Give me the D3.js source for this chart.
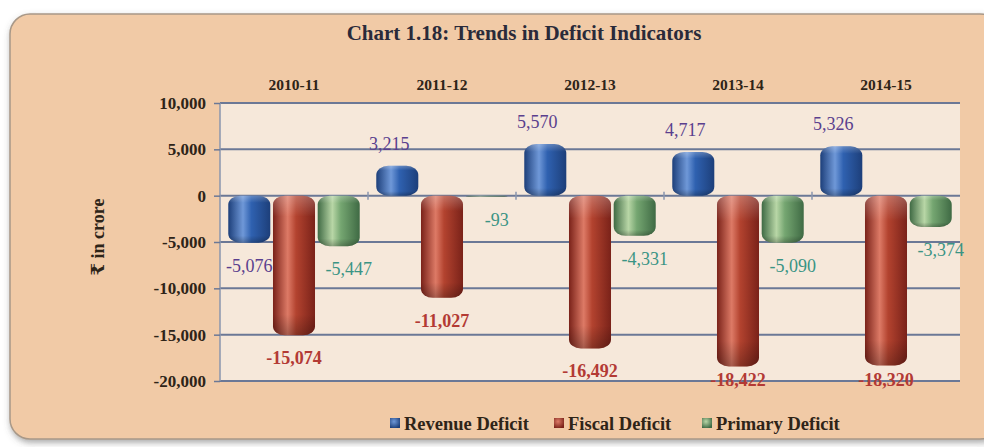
<!DOCTYPE html>
<html>
<head>
<meta charset="utf-8">
<script src="https://cdn.jsdelivr.net/npm/d3@7"></script>
<style>
  body { margin: 0; background: #fff; }
  text { font-family: "Liberation Serif", "DejaVu Serif", serif; }
</style>
</head>
<body>
<svg width="984" height="447"></svg>
<script>
var years = ["2010-11", "2011-12", "2012-13", "2013-14", "2014-15"];
var seriesNames = ["Revenue Deficit", "Fiscal Deficit", "Primary Deficit"];
var revenue = [-5076, 3215, 5570, 4717, 5326];
var fiscal = [-15074, -11027, -16492, -18422, -18320];
var primary = [-5447, -93, -4331, -5090, -3374];
var yTicks = [10000, 5000, 0, -5000, -10000, -15000, -20000];

var svg = d3.select("svg"),
    plot = {left: 220, right: 960, top: 103, bottom: 381};

var fmt = d3.formatLocale({decimal: ".", thousands: ",", grouping: [3], currency: ["", ""], minus: "-"}).format(",");

// colours: dark edge, mid, light, label colour
var pal = [
  {dark: "#1d3f7a", mid: "#2f61b0", light: "#6f98d8", label: "#5a3f8e", weight: "normal"},
  {dark: "#7a2219", mid: "#b3432f", light: "#dd7a66", label: "#b33a34", weight: "bold"},
  {dark: "#3f6a44", mid: "#75a671", light: "#b8d6a6", label: "#3a9484", weight: "normal"}
];

var defs = svg.append("defs");
var f = defs.append("filter").attr("id", "shadow").attr("x", "-5%").attr("y", "-5%").attr("width", "110%").attr("height", "115%");
f.append("feDropShadow").attr("dx", 1).attr("dy", 3).attr("stdDeviation", 3).attr("flood-color", "#555").attr("flood-opacity", 0.5);

pal.forEach(function(p, i) {
  var g = defs.append("linearGradient").attr("id", "bar" + i).attr("x1", "0").attr("x2", "1").attr("y1", "0").attr("y2", "0");
  g.append("stop").attr("offset", "0%").attr("stop-color", p.dark);
  g.append("stop").attr("offset", "35%").attr("stop-color", p.light);
  g.append("stop").attr("offset", "55%").attr("stop-color", p.mid);
  g.append("stop").attr("offset", "100%").attr("stop-color", p.dark);
  var v = defs.append("linearGradient").attr("id", "shade" + i).attr("x1", "0").attr("x2", "0").attr("y1", "0").attr("y2", "1");
  v.append("stop").attr("offset", "0%").attr("stop-color", "#fff").attr("stop-opacity", 0.25);
  v.append("stop").attr("offset", "15%").attr("stop-color", "#fff").attr("stop-opacity", 0);
  v.append("stop").attr("offset", "85%").attr("stop-color", "#000").attr("stop-opacity", 0);
  v.append("stop").attr("offset", "100%").attr("stop-color", "#000").attr("stop-opacity", 0.25);
  var r = defs.append("radialGradient").attr("id", "key" + i).attr("cx", "40%").attr("cy", "35%").attr("r", "70%");
  r.append("stop").attr("offset", "0%").attr("stop-color", p.light);
  r.append("stop").attr("offset", "100%").attr("stop-color", p.dark);
});

// outer panel
svg.append("rect")
  .attr("x", 10).attr("y", 14).attr("width", 990).attr("height", 425)
  .attr("rx", 20)
  .attr("fill", "#f1caa6")
  .attr("stroke", "#a89888").attr("stroke-width", 1.5)
  .attr("filter", "url(#shadow)");

svg.append("text")
  .attr("x", 524).attr("y", 40)
  .attr("text-anchor", "middle")
  .attr("font-size", 21).attr("font-weight", "bold")
  .attr("fill", "#2a2a3a")
  .text("Chart 1.18: Trends in Deficit Indicators");

var x0 = d3.scaleBand().domain(years).range([plot.left, plot.right]);
var x1 = d3.scaleBand().domain(seriesNames).range([0, x0.bandwidth()]).paddingInner(0.06).paddingOuter(0.185);
var y = d3.scaleLinear().domain([-20000, 10000]).range([plot.bottom, plot.top]);

svg.append("rect")
  .attr("x", plot.left).attr("y", plot.top)
  .attr("width", plot.right - plot.left).attr("height", plot.bottom - plot.top)
  .attr("fill", "#f6e8da");

// gridlines
svg.append("g").selectAll("line").data(yTicks).join("line")
  .attr("x1", plot.left).attr("x2", plot.right)
  .attr("y1", function(d) { return y(d); }).attr("y2", function(d) { return y(d); })
  .attr("stroke", "#6b7896").attr("stroke-width", 2);

svg.append("line")
  .attr("x1", plot.left).attr("x2", plot.left)
  .attr("y1", plot.top).attr("y2", plot.bottom)
  .attr("stroke", "#8a96ae").attr("stroke-width", 1.5);

var yAxis = svg.append("g")
  .attr("transform", "translate(" + plot.left + ",0)")
  .call(d3.axisLeft(y).tickValues(yTicks).tickSize(6).tickPadding(8).tickFormat(fmt));
yAxis.select(".domain").remove();
yAxis.selectAll("line").attr("stroke", "#6b7896").attr("stroke-width", 1.5);
yAxis.selectAll("text")
  .attr("font-family", "Liberation Serif, serif")
  .attr("font-size", 17).attr("font-weight", "bold").attr("fill", "#2e2418");

// category dividers on zero line
svg.append("g").selectAll("line").data(years.slice(1)).join("line")
  .attr("x1", function(d) { return x0(d); }).attr("x2", function(d) { return x0(d); })
  .attr("y1", y(0) - 4).attr("y2", y(0) + 4)
  .attr("stroke", "#8a96ae").attr("stroke-width", 1.5);

// category labels at top
svg.append("g").selectAll("text").data(years).join("text")
  .attr("x", function(d) { return x0(d) + x0.bandwidth() / 2; })
  .attr("y", 90)
  .attr("text-anchor", "middle")
  .attr("font-size", 15.5).attr("font-weight", "bold").attr("fill", "#2e2418")
  .text(function(d) { return d; });

svg.append("text")
  .attr("transform", "translate(104," + ((plot.top + plot.bottom) / 2 - 5) + ") rotate(-90)")
  .attr("text-anchor", "middle")
  .attr("font-size", 18).attr("font-weight", "bold").attr("fill", "#2e2418")
  .text("₹ in crore");

var allSeries = [revenue, fiscal, primary];
var rows = [];
allSeries.forEach(function(vals, si) {
  vals.forEach(function(v, yi) {
    rows.push({year: years[yi], series: seriesNames[si], si: si, value: v});
  });
});

function barH(d) { return Math.abs(y(d.value) - y(0)); }
var bars = svg.append("g");
bars.selectAll("rect.bar").data(rows).join("rect")
  .attr("class", "bar")
  .attr("x", function(d) { return x0(d.year) + x1(d.series); })
  .attr("y", function(d) { return Math.min(y(d.value), y(0)); })
  .attr("width", x1.bandwidth())
  .attr("height", barH)
  .attr("rx", 12).attr("ry", 9)
  .attr("fill", function(d) { return "url(#bar" + d.si + ")"; });
bars.selectAll("rect.shade").data(rows).join("rect")
  .attr("class", "shade")
  .attr("x", function(d) { return x0(d.year) + x1(d.series); })
  .attr("y", function(d) { return Math.min(y(d.value), y(0)); })
  .attr("width", x1.bandwidth())
  .attr("height", barH)
  .attr("rx", 12).attr("ry", 9)
  .attr("fill", function(d) { return "url(#shade" + d.si + ")"; });

// data labels
svg.append("g").selectAll("text").data(rows).join("text")
  .attr("x", function(d) { return x0(d.year) + x1(d.series) + x1.bandwidth() / 2 + (d.si === 2 ? 10 : (d.si === 0 && d.value > 0 ? -8 : 0)); })
  .attr("y", function(d) { return d.value >= 0 ? y(d.value) - 16 : Math.min(y(d.value) + 29, plot.bottom + 5); })
  .attr("text-anchor", "middle")
  .attr("font-size", 18)
  .attr("font-weight", function(d) { return pal[d.si].weight; })
  .attr("fill", function(d) { return pal[d.si].label; })
  .text(function(d) { return fmt(d.value); });

// legend
var legendX = [390, 554, 702];
var lg = svg.append("g").selectAll("g").data(seriesNames).join("g")
  .attr("transform", function(d, i) { return "translate(" + legendX[i] + ",430)"; });
lg.append("rect")
  .attr("x", 0).attr("y", -12).attr("width", 10).attr("height", 10)
  .attr("fill", function(d, i) { return "url(#key" + i + ")"; });
lg.append("text")
  .attr("x", 14).attr("y", 0)
  .attr("font-size", 18.5).attr("font-weight", "bold").attr("fill", "#2e2418")
  .text(function(d) { return d; });
</script>
</body>
</html>
